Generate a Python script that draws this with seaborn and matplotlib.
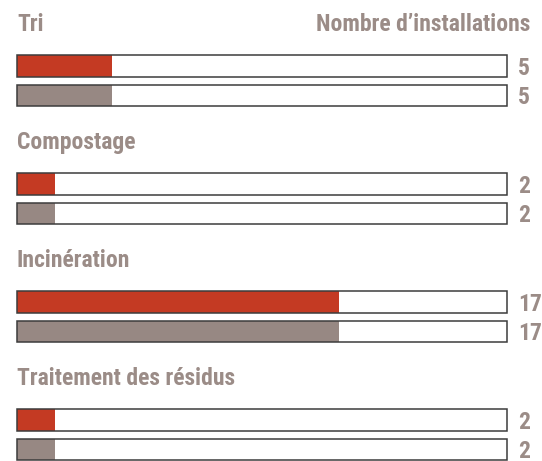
import matplotlib
matplotlib.use("Agg")
import matplotlib.pyplot as plt
import seaborn as sns
import pandas as pd

# ---- data ----
categories = ["Tri", "Compostage", "Incinération", "Traitement des résidus"]
series = ["A", "B"]
values_a = [5, 2, 17, 2]
values_b = [5, 2, 17, 2]
scale_max = 25.9
header_right = "Nombre d\u2019installations"

RED = "#C43A23"
GREY = "#978883"
TEXT = "#9B8C87"
EDGE = "#3c3c3c"
FONT = ["Roboto Condensed", "Barlow Condensed", "DejaVu Sans"]

sns.set_theme(style="white")
plt.rcParams["font.family"] = FONT

rows = []
for g, cat in enumerate(categories):
    for s, (ser, vals) in enumerate(zip(series, [values_a, values_b])):
        rows.append({"cat": cat, "series": ser, "value": vals[g], "pos": g * 4 + s})
df = pd.DataFrame(rows)
df["frame"] = scale_max

fig = plt.figure(figsize=(5.42, 4.61), dpi=100)
ax = fig.add_axes([0, 0, 1, 1])

sns.barplot(data=df, x="value", y="pos", hue="series", orient="h",
            native_scale=True, palette=[RED, GREY], width=0.74,
            dodge=False, legend=False, ax=ax, linewidth=0, saturation=1)
sns.barplot(data=df, x="frame", y="pos", orient="h", native_scale=True,
            width=0.74, fill=False, color=EDGE, linewidth=1.1, ax=ax,
            err_kws={"linewidth": 0})

px = 490 / scale_max
ax.set_xlim(-17 / px, (542 - 17) / px)
ax.set_ylim((461 - 66) / 29.5, -66 / 29.5)
ax.axis("off")

for _, r in df.iterrows():
    ax.text(scale_max + 11 / px, r["pos"] + 0.07, str(r["value"]), color=TEXT,
            fontsize=17, fontweight="bold", va="center", ha="left")

for g, cat in enumerate(categories):
    ax.text(0, g * 4 - 1.41, cat, color=TEXT, fontsize=17, fontweight="bold",
            va="center", ha="left")
ax.text(scale_max + 23 / px, -1.41, header_right, color=TEXT, fontsize=17,
        fontweight="bold", va="center", ha="right")

fig.savefig("out.png", dpi=100)
